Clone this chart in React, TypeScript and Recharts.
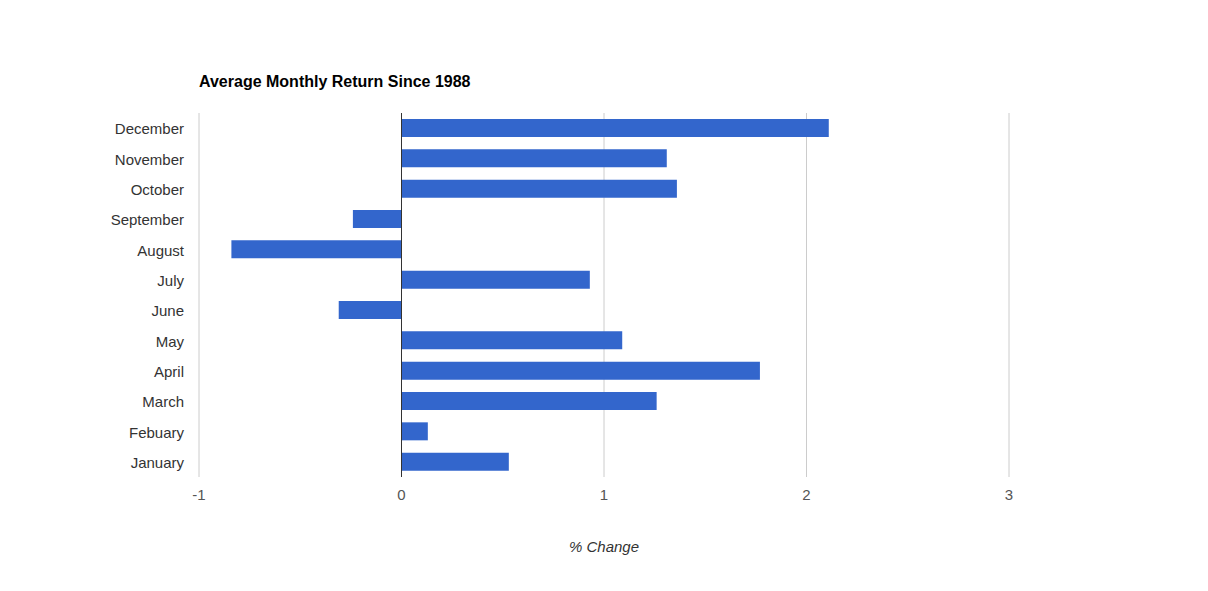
import React from 'react';
import {
  BarChart,
  Bar,
  XAxis,
  YAxis,
  CartesianGrid,
  ReferenceLine,
  Label
} from 'recharts';

const months: string[] = [
  'January', 'Febuary', 'March', 'April', 'May', 'June',
  'July', 'August', 'September', 'October', 'November', 'December'
];

// average % return per month
const returns: number[] = [0.53, 0.13, 1.26, 1.77, 1.09, -0.31, 0.93, -0.84, -0.24, 1.36, 1.31, 2.11];

const xTicks: number[] = [-1, 0, 1, 2, 3];

const chartTitle = 'Average Monthly Return Since 1988';
const xAxisTitle = '% Change';

const FONT = '"Liberation Sans", Arial, sans-serif';

const App: React.FC = () => {
  const chartData = months.map((month, i) => ({ month, value: returns[i] }));

  return (
    <div style={{ position: 'relative', width: 1192, height: 575, fontFamily: FONT }}>
      <div
        style={{
          position: 'absolute',
          left: 191,
          top: 64.5,
          fontSize: 16,
          fontWeight: 'bold',
          color: '#000',
          whiteSpace: 'nowrap'
        }}
      >
        {chartTitle}
      </div>
      <BarChart
        width={1192}
        height={575}
        data={chartData}
        layout="vertical"
        margin={{ top: 105, right: 191, bottom: 26, left: 0 }}
        style={{ fontFamily: FONT }}
      >
        <CartesianGrid horizontal={false} stroke="#cccccc" strokeWidth={1} />
        <XAxis
          type="number"
          domain={[-1, 3]}
          ticks={xTicks}
          axisLine={false}
          tickLine={false}
          tickSize={0}
          tickMargin={12}
          height={80}
          tick={{ fontSize: 15, fill: '#555555' }}
        >
          <Label
            value={xAxisTitle}
            position="bottom"
            offset={-16}
            style={{ fontSize: 15, fontStyle: 'italic', fill: '#333333' }}
          />
        </XAxis>
        <YAxis
          type="category"
          dataKey="month"
          reversed
          width={191}
          axisLine={false}
          tickLine={false}
          tickSize={0}
          tickMargin={15}
          interval={0}
          tick={{ fontSize: 15, fill: '#333333', dy: 1 }}
        />
        <Bar dataKey="value" fill="#3366cc" barSize={18} isAnimationActive={false} />
        <ReferenceLine x={0} stroke="#333333" strokeWidth={1} />
      </BarChart>
    </div>
  );
};

export default App;
